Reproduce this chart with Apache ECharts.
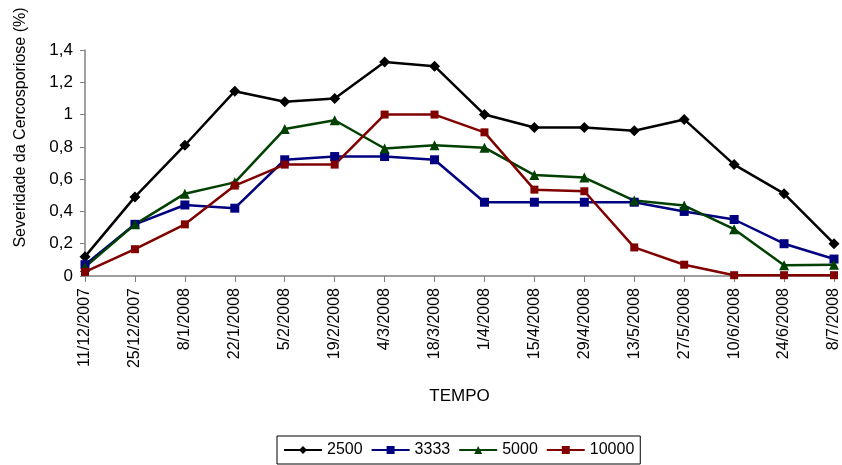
<!DOCTYPE html>
<html><head><meta charset="utf-8">
<script src="https://cdn.jsdelivr.net/npm/echarts@6/dist/echarts.min.js"></script>
<style>html,body{margin:0;padding:0;background:#fff}#c{width:842px;height:465px}</style>
</head><body><div id="c"></div>
<script>
const categories = ['11/12/2007','25/12/2007','8/1/2008','22/1/2008','5/2/2008','19/2/2008','4/3/2008','18/3/2008','1/4/2008','15/4/2008','29/4/2008','13/5/2008','27/5/2008','10/6/2008','24/6/2008','8/7/2008'];
const s2500 = [0.12,0.49,0.81,1.145,1.08,1.10,1.325,1.30,1.0,0.92,0.92,0.90,0.97,0.69,0.51,0.20];
const s3333 = [0.07,0.32,0.44,0.42,0.72,0.74,0.74,0.72,0.457,0.457,0.457,0.457,0.40,0.35,0.20,0.105];
const s5000 = [0.056,0.32,0.51,0.58,0.91,0.965,0.79,0.81,0.795,0.625,0.61,0.467,0.436,0.29,0.067,0.07];
const s10000 = [0.025,0.166,0.32,0.56,0.69,0.69,1.0,1.0,0.89,0.535,0.525,0.177,0.07,0.005,0.005,0.005];
const yTicks = [0,0.2,0.4,0.6,0.8,1,1.2,1.4];
const font = 'Liberation Sans, Arial, sans-serif';
const chart = echarts.init(document.getElementById('c'));
function ser(name, data, color, symbol, size){
  return {name, type:'line', data, symbol, symbolSize:size, clip:false,
    lineStyle:{color, width:2.5}, itemStyle:{color}, animation:false};
}
chart.setOption({
  animation:false,
  textStyle:{fontFamily:font},
  grid:{left:85, right:2, top:50, bottom:189},
  legend:{left:277, top:436, itemWidth:38, itemHeight:10, itemGap:8,
    borderColor:'#000', borderWidth:1, padding:[6,6,6,6],
    textStyle:{fontFamily:font, fontSize:16, color:'#000'},
    data:['2500','3333','5000','10000']},
  xAxis:{type:'category', data:categories, boundaryGap:false,
    name:'TEMPO', nameLocation:'middle', nameGap:112,
    nameTextStyle:{fontFamily:font, fontSize:17, color:'#000'},
    axisLine:{lineStyle:{color:'#808080', width:1.5}},
    axisTick:{alignWithLabel:true, length:6, lineStyle:{color:'#808080'}},
    axisLabel:{rotate:90, fontFamily:font, fontSize:16, color:'#000', margin:12, interval:0}},
  yAxis:{type:'value', min:0, max:1.4, interval:0.2,
    name:'Severidade da Cercosporiose (%)', nameLocation:'middle', nameGap:56,
    nameTextStyle:{fontFamily:font, fontSize:16, color:'#000', padding:[0,0,0,71]},
    splitLine:{show:false},
    axisLine:{show:true, lineStyle:{color:'#808080', width:1.5}},
    axisTick:{show:true, length:5, lineStyle:{color:'#808080'}},
    axisLabel:{fontFamily:font, fontSize:17, color:'#000', margin:12,
      formatter:v=>{const t=yTicks.find(x=>Math.abs(x-v)<1e-9); return String(t!==undefined?t:v).replace('.',',');}}},
  series:[
    ser('2500', s2500, '#000000', 'diamond', 11),
    ser('3333', s3333, '#000080', 'rect', 9),
    ser('5000', s5000, '#004000', 'triangle', 10),
    ser('10000', s10000, '#800000', 'rect', 8)
  ]
});
</script></body></html>
